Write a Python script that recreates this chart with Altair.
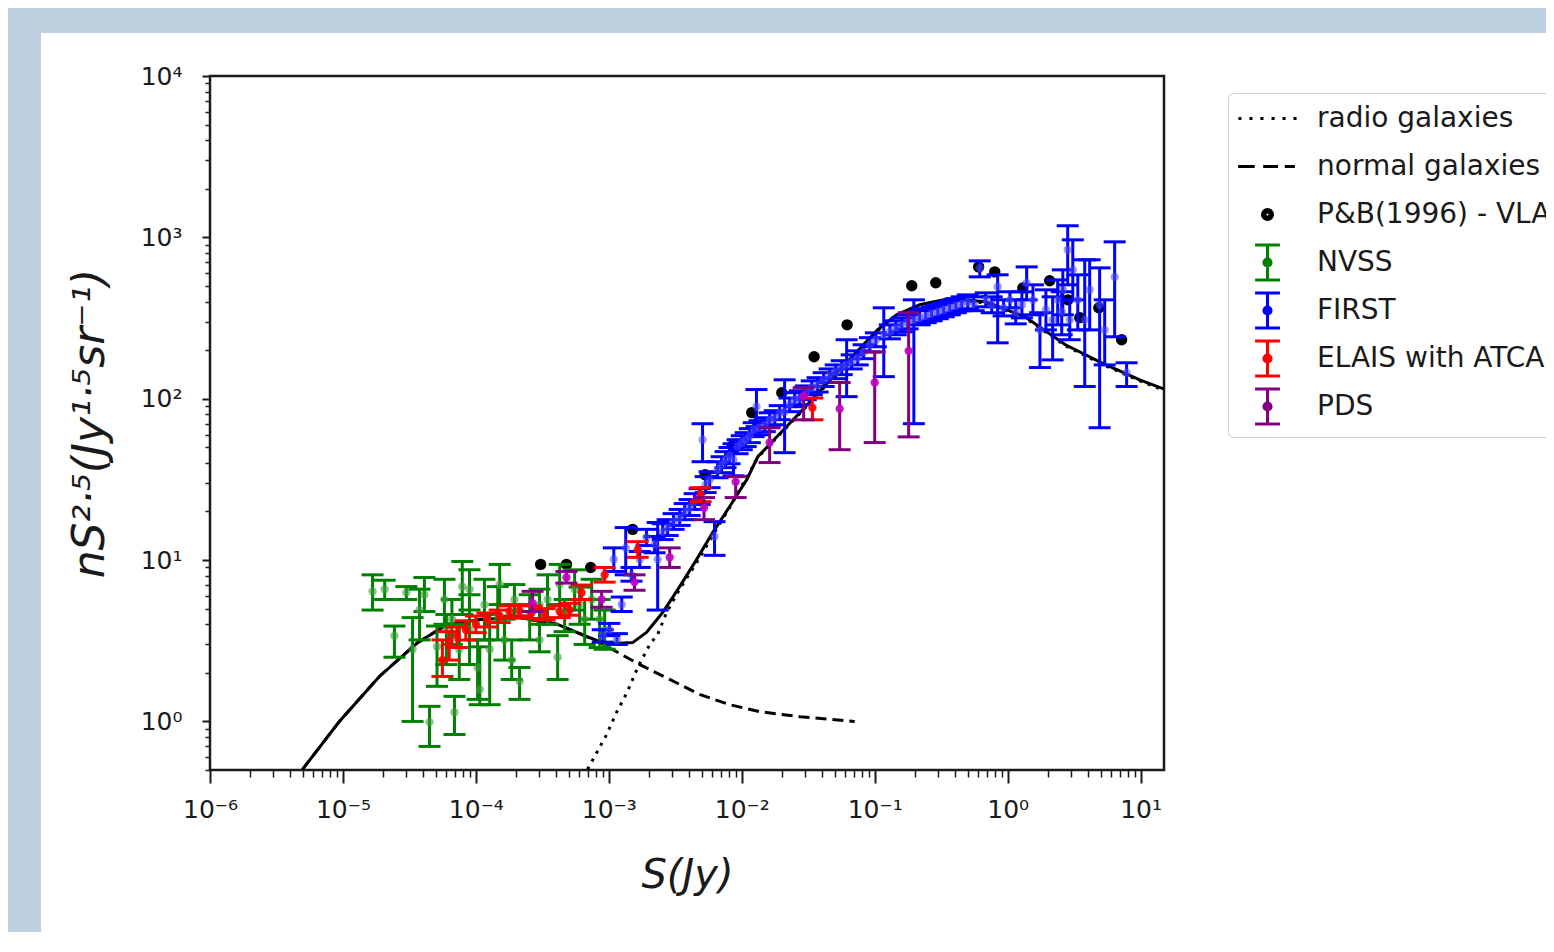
import json
import altair as alt
import pandas as pd

# ---------------- data ----------------
# P&B (1996) - VLA
pb_s = [3.07e-4, 4.8e-4, 7.3e-4, 1.51e-3, 5.3e-3, 8.5e-3, 1.19e-2, 2.0e-2, 3.5e-2, 6.2e-2,
        0.19, 0.288, 0.605, 0.80, 1.30, 2.07, 2.84, 3.49, 4.85, 7.2]
pb_n = [9.4, 9.4, 9.0, 15.5, 33.8, 51, 82, 109, 182, 287,
        501, 523, 656, 611, 486, 538, 410, 318, 366, 232]

# NVSS
nvss_s = [1.67e-5, 2.06e-5, 3.0e-5, 2.44e-5, 3.34e-5, 4.48e-5, 6.9e-5, 5.1e-5, 7.9e-5, 3.77e-5,
          5.8e-5, 6.6e-5, 8.95e-5, 1.03e-4, 1.16e-4, 1.27e-4, 1.46e-4, 1.64e-4, 1.86e-4, 2.13e-4,
          2.54e-4, 3.01e-4, 3.46e-4, 4.12e-4, 4.65e-4, 5.53e-4, 6.58e-4, 7.43e-4, 8.53e-4, 9.3e-4,
          4.27e-4, 8.95e-5, 1.51e-4, 4.1e-5, 7.5e-5, 3.01e-4, 6.03e-4, 1.95e-4, 6.0e-5, 1.07e-4]
nvss_n = [6.4, 6.6, 6.3, 3.4, 2.8, 0.99, 1.14, 2.9, 6.85, 4.9,
          5.7, 4.3, 3.7, 2.16, 5.3, 2.8, 4.6, 3.2, 2.4, 1.77,
          4.6, 3.2, 5.7, 2.5, 4.6, 6.6, 4.3, 5.7, 4.3, 3.7,
          7.05, 6.6, 7.05, 6.1, 2.8, 5.3, 5.3, 5.7, 3.7, 1.58]
nvss_lo = [4.9, 5.7, 5.7, 2.5, 1.0, 0.70, 0.83, 1.65, 4.6, 3.2,
           4.0, 3.0, 2.25, 1.37, 3.2, 1.27, 3.2, 2.4, 1.82, 1.37,
           3.2, 2.7, 4.0, 1.82, 3.6, 4.9, 3.0, 4.3, 2.87, 2.8,
           5.3, 4.9, 5.3, 4.8, 1.82, 4.3, 4.0, 4.5, 2.25, 1.27]
nvss_hi = [8.1, 7.5, 6.85, 3.9, 4.4, 1.24, 1.43, 3.9, 9.8, 6.6,
           7.6, 5.7, 6.1, 3.2, 7.6, 4.6, 6.85, 4.3, 3.2, 2.16,
           6.1, 4.0, 8.1, 3.4, 5.7, 8.7, 5.7, 7.6, 5.7, 4.9,
           9.4, 8.7, 9.4, 7.8, 4.0, 6.6, 6.8, 7.05, 4.6, 2.9]

# FIRST
first_s = [9.0e-4, 1.01e-3, 1.15e-3, 1.25e-3, 1.09e-3, 1.34e-3, 1.48e-3, 1.71e-3, 1.92e-3, 2.21e-3,
           2.33e-3, 2.54e-3, 2.77e-3, 3.07e-3, 3.41e-3, 3.72e-3, 4.05e-3, 4.42e-3, 4.82e-3, 5.07e-3,
           5.35e-3, 5.73e-3, 6.24e-3, 6.58e-3, 7.05e-3, 7.55e-3, 8.09e-3, 8.67e-3, 9.3e-3, 1.0e-2,
           1.07e-2, 1.15e-2, 1.23e-2, 1.29e-2, 1.36e-2, 1.49e-2, 1.62e-2, 1.77e-2, 1.93e-2, 2.10e-2,
           2.29e-2, 2.50e-2, 2.73e-2, 3.03e-2, 3.36e-2, 3.72e-2, 4.13e-2, 4.58e-2, 5.09e-2, 5.65e-2,
           6.15e-2, 6.71e-2, 7.45e-2, 8.26e-2, 9.2e-2, 0.102, 0.117, 0.130, 0.144, 0.160,
           0.177, 0.197, 0.218, 0.242, 0.268, 0.298, 0.330, 0.367, 0.407, 0.451,
           0.501, 0.556, 0.617, 0.684, 0.759, 0.841, 0.933, 1.04, 1.15, 1.28,
           1.39, 1.55, 1.75, 1.94, 2.18, 2.38, 2.60, 2.83, 3.09, 3.37,
           3.80, 4.14, 4.92, 5.37, 6.38, 7.85, 2.93, 2.55]
first_n = [3.4, 3.7, 3.2, 5.3, 10.1, 11.9, 8.1, 10.1, 13.8, 12.5,
           10.1, 15.0, 15.9, 17.3, 18.3, 20.0, 21.1, 23.0, 24.7, 55.7,
           29.3, 31.5, 14.0, 36.3, 39.0, 41.9, 44.4, 41.9, 50.5, 53.4,
           55.7, 59.0, 64.3, 89.2, 66.1, 69.0, 74.1, 76.2, 81.8, 83.1,
           91.8, 98.6, 101, 109, 117, 122, 131, 139, 147, 156,
           162, 169, 179, 195, 216, 232, 249, 260, 275, 287,
           300, 308, 317, 326, 336, 346, 356, 366, 376, 387,
           399, 387, 647, 410, 382, 494, 366, 410, 346, 382,
           522, 410, 267, 356, 308, 410, 473, 837, 629, 410,
           308, 473, 382, 267, 569, 145, 308, 346]
first_lo = [3.1, 3.4, 3.0, 4.8, 8.5, 8.1, 7.4, 9.0, 12.3, 11.1,
            4.9, 13.4, 14.2, 15.5, 16.4, 17.8, 18.9, 20.6, 22.1, 40.7,
            26.2, 28.1, 10.7, 32.4, 34.8, 37.4, 39.5, 33.3, 45.6, 48.3,
            50.5, 53.4, 58.2, 67.1, 59.8, 62.5, 67.1, 69.0, 74.1, 46.3,
            83.1, 89.2, 91.8, 98.6, 106, 110, 119, 126, 133, 141,
            103, 153, 162, 177, 195, 210, 137, 235, 249, 260,
            271, 70.0, 287, 296, 304, 313, 322, 331, 341, 351,
            361, 351, 569, 371, 341, 222, 326, 366, 291, 317,
            410, 331, 156, 267, 174, 287, 331, 508, 410, 267,
            119, 267, 66.1, 162, 242, 119, 232, 249]
first_hi = [3.7, 4.05, 3.5, 5.9, 11.9, 15.9, 9.0, 11.3, 15.5, 14.0,
            17.1, 16.8, 17.8, 19.4, 20.6, 22.4, 23.7, 25.8, 27.7, 70.0,
            32.9, 35.3, 17.3, 40.7, 43.7, 47.0, 49.8, 52.6, 55.7, 59.0,
            61.6, 65.2, 71.0, 114, 73.1, 76.2, 81.8, 84.3, 90.6, 131,
            101, 109, 112, 120, 129, 135, 145, 153, 162, 172,
            232, 187, 198, 216, 239, 256, 366, 287, 304, 317,
            331, 410, 351, 361, 371, 382, 393, 404, 416, 428,
            440, 428, 715, 453, 428, 586, 410, 460, 410, 460,
            656, 508, 341, 473, 428, 545, 629, 1180, 965, 586,
            726, 726, 647, 410, 938, 167, 410, 460]

# ELAIS with ATCA
elais_s = [5.6e-5, 6.3e-5, 7.2e-5, 8.4e-5, 1.0e-4, 1.22e-4, 1.51e-4, 1.79e-4, 2.13e-4, 2.62e-4,
           3.29e-4, 4.27e-4, 5.07e-4, 6.24e-4, 9.3e-4, 1.65e-3, 4.9e-3, 3.4e-2]
elais_n = [2.4, 3.0, 3.4, 3.7, 4.0, 4.3, 4.5, 4.8, 4.85, 4.7,
           4.6, 4.8, 4.9, 6.3, 8.1, 11.6, 25.5, 88]
elais_lo = [1.9, 2.4, 2.87, 3.2, 3.55, 3.85, 4.1, 4.4, 4.5, 4.35,
            4.25, 4.4, 4.55, 5.7, 7.3, 10.4, 23.0, 74]
elais_hi = [3.2, 3.6, 3.85, 4.2, 4.5, 4.7, 4.9, 5.2, 5.3, 5.2,
            5.0, 5.2, 5.4, 7.0, 9.0, 13.0, 28.1, 101]

# PDS
pds_s = [2.67e-4, 4.8e-4, 8.83e-4, 1.56e-3, 2.87e-3, 5.2e-3, 9.0e-3, 1.62e-2, 2.92e-2, 5.45e-2, 0.10, 0.18]
pds_n = [5.4, 7.8, 5.7, 7.3, 10.4, 21.1, 30.6, 53.5, 104, 86.7, 126, 198]
pds_lo = [4.8, 7.2, 5.1, 6.5, 9.0, 17.8, 24.4, 40.2, 74, 48.3, 53.5, 58]
pds_hi = [6.4, 8.5, 6.4, 8.1, 11.9, 24.4, 32.9, 66, 117, 126, 195, 341]

# model curves
total_s = [4.97e-6, 9.4e-6, 1.88e-5, 3.64e-5, 6.1e-5, 1.07e-4, 2.13e-4, 4.12e-4, 6.8e-4, 8.53e-4,
           1.11e-3, 1.51e-3, 1.92e-3, 2.54e-3, 3.41e-3, 4.58e-3, 6.04e-3, 8.09e-3, 1.09e-2, 1.32e-2,
           2.73e-2, 5.45e-2, 0.105, 0.146, 0.218, 0.360, 0.684, 1.35, 2.72, 5.1, 9.86, 14.9]
total_n = [0.505, 1.0, 1.90, 3.08, 3.99, 4.28, 4.41, 3.99, 3.36, 3.13,
           3.04, 3.08, 3.56, 4.73, 6.85, 10.1, 14.8, 21.4, 31.5, 43.7,
           81.8, 151, 267, 331, 382, 416, 399, 322, 216, 167, 131, 115]
normal_s = [4.97e-6, 9.4e-6, 1.88e-5, 3.64e-5, 6.1e-5, 1.07e-4, 2.13e-4, 4.12e-4, 6.8e-4, 9.1e-4,
            1.71e-3, 2.87e-3, 4.82e-3, 8.09e-3, 1.36e-2, 2.73e-2, 7.08e-2]
normal_n = [0.505, 1.0, 1.90, 3.08, 3.99, 4.28, 4.41, 3.99, 3.36, 3.0,
            2.25, 1.82, 1.47, 1.27, 1.15, 1.07, 1.0]
radio_s = [6.92e-4, 7.82e-4, 9.64e-4, 1.15e-3, 1.38e-3, 1.65e-3, 2.03e-3, 2.33e-3, 2.72e-3, 3.41e-3,
           4.58e-3, 6.04e-3, 8.09e-3, 1.32e-2, 2.73e-2, 5.45e-2, 0.105, 0.146, 0.360, 0.684,
           1.35, 2.72, 5.1, 9.86, 14.9]
radio_n = [0.505, 0.607, 0.83, 1.15, 1.53, 2.16, 3.0, 3.46, 4.73, 6.6,
           9.65, 14.2, 21.1, 43.2, 80.7, 149, 264, 326, 410, 393,
           317, 213, 164, 129, 113]

# ticks
x_major_vals = [1e-6, 1e-5, 1e-4, 1e-3, 1e-2, 1e-1, 1, 10]
x_tick_labels = ["10⁻⁶", "10⁻⁵", "10⁻⁴", "10⁻³", "10⁻²", "10⁻¹", "10⁰", "10¹"]
y_major_vals = [1, 10, 100, 1000, 10000]
y_tick_labels = ["10⁰", "10¹", "10²", "10³", "10⁴"]
x_minor_vals = [k * 10.0 ** e for e in range(-6, 1) for k in range(2, 10)]
y_minor_vals = [k * 10.0 ** e for e in range(-1, 4) for k in range(2, 10) if k * 10.0 ** e >= 0.5]

legend_labels = ["radio galaxies", "normal galaxies", "P&B(1996) - VLA", "NVSS", "FIRST",
                 "ELAIS with ATCA", "PDS"]
legend_colors = ["black", "black", "black", "#008000", "#0000ff", "#ff0000", "#800080"]

# ---------------- styling ----------------
W, H = 954, 694
PAD = {"left": 202, "top": 68, "right": 382, "bottom": 162}
FRAME_BLUE = "#bfd0e1"
INK = "#1a1a1a"
FONT = "DejaVu Sans"


def circ(r):
    return f"M{-r},0A{r},{r},0,1,0,{r},0A{r},{r},0,1,0,{-r},0"


EXT = "M0,-1M0,1"
sym_dotted = EXT + "".join(f"M{c - 0.085:.3f},0h0.17" for c in [-1.53, -0.92, -0.31, 0.31, 0.92, 1.53])
sym_dashed = EXT + "M-1.63,0H-0.71M-0.24,0H0.59M0.96,0H1.52"
sym_dot = EXT + circ(0.28) + circ(0.14) + circ(0.03)
sym_err = EXT + "M-0.69,-0.97H0.69M0,-0.97V0.97M-0.69,0.97H0.69" + circ(0.2) + circ(0.08)
legend_shapes = [sym_dotted, sym_dashed, sym_dot, sym_err, sym_err, sym_err, sym_err]

xs = alt.Scale(type="log", domain=[1e-6, 15], nice=False)
ys = alt.Scale(type="log", domain=[0.5, 1e4], nice=False)

xexpr = json.dumps(x_tick_labels, ensure_ascii=False) + "[round(log(datum.value)/LN10)+6]"
yexpr = json.dumps(y_tick_labels, ensure_ascii=False) + "[round(log(datum.value)/LN10)]"

ax_x_major = alt.Axis(orient="bottom", values=x_major_vals, labelExpr=xexpr, grid=False, domain=False,
                      tickSize=13, tickWidth=2, tickColor=INK, labelFont=FONT, labelFontSize=25,
                      labelColor=INK, labelPadding=14, labelFlush=False, labelOverlap=False,
                      title="S(Jy)", titleFont=FONT, titleFontSize=40, titleFontStyle="italic",
                      titleFontWeight="normal", titleColor=INK, titlePadding=33)
ax_y_major = alt.Axis(orient="left", values=y_major_vals, labelExpr=yexpr, grid=False, domain=False,
                      tickSize=8, tickWidth=2, tickColor=INK, labelFont=FONT, labelFontSize=25,
                      labelColor=INK, labelPadding=20, labelOverlap=False,
                      title="nS²·⁵(Jy¹·⁵sr⁻¹)", titleFont=FONT, titleFontSize=44,
                      titleFontStyle="italic", titleFontWeight="normal", titleColor=INK, titlePadding=28)
ax_x_minor = alt.Axis(orient="bottom", values=x_minor_vals, labels=False, grid=False, domain=False,
                      tickSize=7, tickWidth=1.5, tickColor=INK, title=None)
ax_y_minor = alt.Axis(orient="left", values=y_minor_vals, labels=False, grid=False, domain=False,
                      tickSize=5, tickWidth=1.5, tickColor=INK, title=None)

# ---------------- layers ----------------
one = pd.DataFrame({"k": [0]})
strip_left = alt.Chart(one).mark_rect(color=FRAME_BLUE).encode(
    x=alt.value(-PAD["left"]), x2=alt.value(-169), y=alt.value(-PAD["top"]), y2=alt.value(H + PAD["bottom"]))
strip_top = alt.Chart(one).mark_rect(color=FRAME_BLUE).encode(
    x=alt.value(-PAD["left"]), x2=alt.value(W + PAD["right"]), y=alt.value(-PAD["top"]), y2=alt.value(-43))


def curve(s, n, dash, xa, ya):
    df = pd.DataFrame({"S": s, "N": n})
    kw = dict(color="black", strokeWidth=3, clip=True)
    if dash:
        kw["strokeDash"] = dash
    return alt.Chart(df).mark_line(**kw).encode(
        x=alt.X("S:Q", scale=xs, axis=xa), y=alt.Y("N:Q", scale=ys, axis=ya))


solid = curve(total_s, total_n, None, ax_x_major, ax_y_major)
dashed = curve(normal_s, normal_n, [11, 6], ax_x_minor, ax_y_minor)
dotted = curve(radio_s, radio_n, [3, 6], None, None)

pb = alt.Chart(pd.DataFrame({"S": pb_s, "N": pb_n})).mark_circle(color="black", opacity=1, size=130).encode(
    x=alt.X("S:Q", scale=xs, axis=None), y=alt.Y("N:Q", scale=ys, axis=None))


def errbars(s, n, lo, hi, bar_color, pt_color, pt_opacity):
    df = pd.DataFrame({"S": s, "N": n, "lo": lo, "hi": hi})
    base = alt.Chart(df)
    X = alt.X("S:Q", scale=xs, axis=None)
    bars = base.mark_rule(color=bar_color, strokeWidth=3, clip=True).encode(
        x=X, y=alt.Y("lo:Q", scale=ys, axis=None), y2="hi:Q")
    caps = base.transform_fold(["lo", "hi"], as_=["end", "val"]).mark_tick(
        orient="horizontal", color=bar_color, size=22, thickness=3, clip=True, opacity=1).encode(
        x=X, y=alt.Y("val:Q", scale=ys, axis=None))
    pts = base.mark_circle(color=pt_color, opacity=pt_opacity, size=70, clip=True).encode(
        x=X, y=alt.Y("N:Q", scale=ys, axis=None))
    return [bars, caps, pts]


leg = dict(orient="none", legendX=1018, legendY=17, title=None, symbolSize=1296, symbolStrokeWidth=3,
           symbolOpacity=1, symbolOffset=14, labelOffset=30, labelFont=FONT, labelFontSize=28,
           labelColor=INK, labelLimit=1000, rowPadding=-1, padding=6, fillColor="white",
           strokeColor="#cccccc", cornerRadius=5)
legend_df = pd.DataFrame({"series": legend_labels, "S": [None] * 7, "N": [None] * 7})
legend_layer = alt.Chart(legend_df).mark_point(filled=False, strokeWidth=3, opacity=1).encode(
    x=alt.X("S:Q", scale=xs, axis=None),
    y=alt.Y("N:Q", scale=ys, axis=None),
    color=alt.Color("series:N", scale=alt.Scale(domain=legend_labels, range=legend_colors),
                    legend=alt.Legend(**leg)),
    shape=alt.Shape("series:N", scale=alt.Scale(domain=legend_labels, range=legend_shapes),
                    legend=alt.Legend(**leg)),
)

layers = [strip_left, strip_top, dotted, dashed, solid, pb]
layers += errbars(nvss_s, nvss_n, nvss_lo, nvss_hi, "#008000", "#3c9f3c", 0.6)
layers += errbars(first_s, first_n, first_lo, first_hi, "#0000ff", "#4a4aff", 0.55)
layers += errbars(elais_s, elais_n, elais_lo, elais_hi, "#ff0000", "#ff0000", 0.9)
layers += errbars(pds_s, pds_n, pds_lo, pds_hi, "#800080", "#c000c0", 0.9)
layers += [legend_layer]

chart = alt.layer(*layers).resolve_axis(x="independent", y="independent").properties(
    width=W, height=H, padding=PAD, autosize=alt.AutoSizeParams(type="none"),
).configure(background="white").configure_view(stroke=INK, strokeWidth=2.5)

chart.save("out.html", embed_options={"renderer": "svg", "actions": False})
